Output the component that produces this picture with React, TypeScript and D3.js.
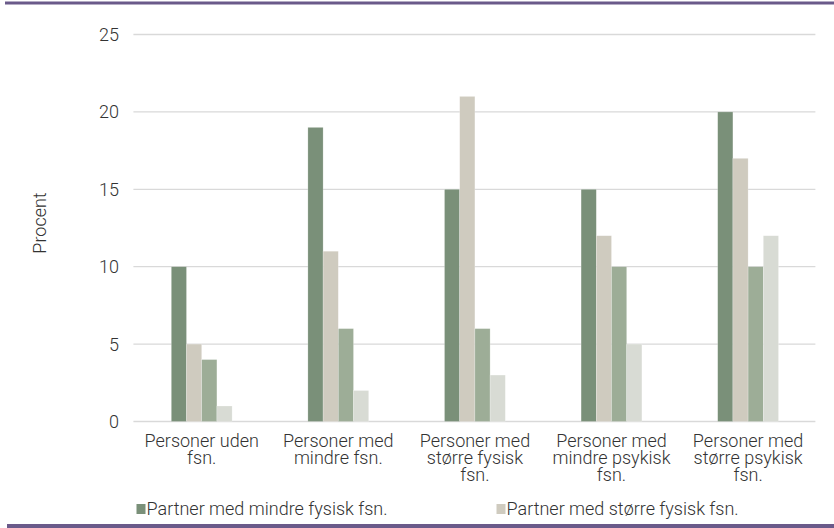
import React from "react";
import * as d3 from "d3";

const categories = [
  ["Personer uden", "fsn."],
  ["Personer med", "mindre fsn."],
  ["Personer med", "større fysisk", "fsn."],
  ["Personer med", "mindre psykisk", "fsn."],
  ["Personer med", "større psykisk", "fsn."],
];
const seriesNames = [
  "Partner med mindre fysisk fsn.",
  "Partner med større fysisk fsn.",
  "Partner med mindre psykisk fsn.",
  "Partner med større psykisk fsn.",
];
const seriesColors = ["#7a9079", "#cfcbbf", "#9dad97", "#d8dbd4"];
const s1 = [10, 19, 15, 15, 20];
const s2 = [5, 11, 21, 12, 17];
const s3 = [4, 6, 6, 10, 10];
const s4 = [1, 2, 3, 5, 12];
const seriesValues = [s1, s2, s3, s4];
const yTicks = [0, 5, 10, 15, 20, 25];
const legendShown = [0, 1];

const W = 834;
const H = 528;
const FONT = "'Roboto', 'Liberation Sans', sans-serif";
const FS = 18;
const SX = 1.0;
const TXT = "#333333";

function T({
  x,
  y,
  anchor = "start",
  rotate = 0,
  children,
}: {
  x: number;
  y: number;
  anchor?: string;
  rotate?: number;
  children: React.ReactNode;
}) {
  return (
    <g transform={`translate(${x},${y}) rotate(${rotate}) scale(${SX},1)`}>
      <text
        x={0}
        y={0}
        textAnchor={anchor}
        fontSize={FS}
        fontWeight={300}
        fill={TXT}
      >
        {children}
      </text>
    </g>
  );
}

export default function App() {
  const left = 133.4;
  const right = 816.4;
  const y = d3.scaleLinear().domain([0, 25]).range([421.5, 34.5]);
  const x0 = d3
    .scaleBand<number>()
    .domain(categories.map((_, i) => i))
    .range([left, right]);
  const groupW = 60.8;
  const x1 = d3
    .scaleBand<number>()
    .domain(seriesNames.map((_, i) => i))
    .range([0, groupW]);
  const off = (x0.bandwidth() - groupW) / 2;

  return (
    <svg
      width={W}
      height={H}
      style={{ position: "absolute", left: 0, top: 0 }}
      fontFamily={FONT}
    >
      <rect x={0} y={0} width={W} height={H} fill="#fff" />
      <rect x={5} y={1.5} width={W - 5} height={3} fill="#6a5a8a" />
      <rect x={7} y={524} width={W - 7} height={4} fill="#6a5a8a" />
      {yTicks.map((t) => (
        <g key={t}>
          <line
            x1={left}
            x2={right - 1}
            y1={y(t)}
            y2={y(t)}
            stroke="#d9d9d9"
            strokeWidth={1.3}
          />
          <T x={119} y={y(t) + 6.5} anchor="end">
            {t}
          </T>
        </g>
      ))}
      <T x={46} y={223} anchor="middle" rotate={-90}>
        Procent
      </T>
      {seriesValues.map((vals, si) =>
        vals.map((v, ci) => (
          <rect
            key={`${si}-${ci}`}
            x={(x0(ci) as number) + off + (x1(si) as number)}
            y={y(v)}
            width={x1.bandwidth()}
            height={y(0) - y(v)}
            fill={seriesColors[si]}
            stroke="#ffffff"
            strokeOpacity={0.35}
            strokeWidth={0.6}
          />
        ))
      )}
      {categories.map((lines, ci) =>
        lines.map((l, li) => (
          <T
            key={`${ci}-${li}`}
            x={(x0(ci) as number) + x0.bandwidth() / 2}
            y={446.5 + li * 17.2}
            anchor="middle"
          >
            {l}
          </T>
        ))
      )}
      {legendShown.map((si, k) => {
        const lx = k === 0 ? 136.5 : 496.5;
        return (
          <g key={si}>
            <rect x={lx} y={504} width={9} height={10} fill={seriesColors[si]} />
            <T x={lx + 10} y={514.5}>
              {seriesNames[si]}
            </T>
          </g>
        );
      })}
    </svg>
  );
}
